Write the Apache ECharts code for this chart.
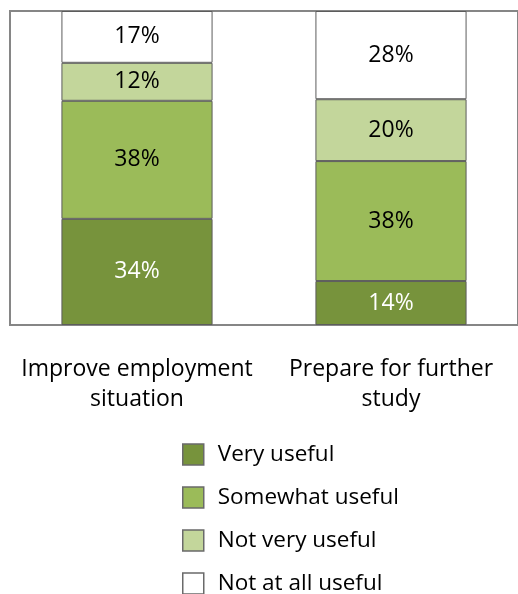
<!DOCTYPE html>
<html>
<head>
<meta charset="utf-8">
<script src="https://cdn.jsdelivr.net/npm/echarts@6/dist/echarts.min.js"></script>
<style>
html,body{margin:0;padding:0;background:#fff;}
#chart{width:518px;height:594px;}
</style>
</head>
<body>
<div id="chart"></div>
<script>
var categories = ['Improve employment\nsituation', 'Prepare for further\nstudy'];
var seriesNames = ['Very useful', 'Somewhat useful', 'Not very useful', 'Not at all useful'];
var veryUseful = [33.8, 14.0];
var somewhatUseful = [37.6, 38.2];
var notVeryUseful = [12.1, 19.7];
var notAtAllUseful = [16.5, 28.1];
var colors = ['#77933C', '#9BBB59', '#C3D69B', '#FFFFFF'];
var labelColors = ['#FFFFFF', '#000000', '#000000', '#000000'];

var FONT = 'Open Sans';
var valueSets = [veryUseful, somewhatUseful, notVeryUseful, notAtAllUseful];

var series = valueSets.map(function (vals, i) {
  return {
    name: seriesNames[i],
    type: 'bar',
    stack: 'total',
    barWidth: '59.5%',
    data: vals,
    itemStyle: { color: colors[i], borderColor: '#5c5c5c', borderWidth: 1 },
    label: {
      show: true,
      position: 'inside',
      fontFamily: FONT,
      fontSize: 23,
      color: labelColors[i],
      formatter: function (p) { return Math.round(p.value) + '%'; }
    },
    emphasis: { disabled: true }
  };
});

var chart = echarts.init(document.getElementById('chart'));
chart.setOption({
  animation: false,
  grid: {
    left: 10, top: 11, width: 518, height: 314,
    show: true, borderColor: '#868686', borderWidth: 2, backgroundColor: 'transparent'
  },
  legend: {
    orient: 'vertical',
    left: 182,
    top: 443,
    height: 200,
    padding: 0,
    itemWidth: 21,
    itemHeight: 21,
    itemGap: 20,
    icon: 'rect',
    data: seriesNames,
    itemStyle: { borderColor: '#6a6a6a', borderWidth: 1.5 },
    textStyle: { fontFamily: FONT, fontSize: 22.5, color: '#000', padding: [0, 0, 0, 9] }
  },
  xAxis: {
    type: 'category',
    data: categories,
    axisLine: { show: false },
    axisTick: { show: false },
    axisLabel: {
      margin: 29,
      fontFamily: FONT,
      fontSize: 23,
      lineHeight: 30,
      color: '#000',
      interval: 0
    }
  },
  yAxis: {
    type: 'value',
    min: 0,
    max: 100,
    show: false,
    splitLine: { show: false }
  },
  series: series
});
</script>
</body>
</html>
